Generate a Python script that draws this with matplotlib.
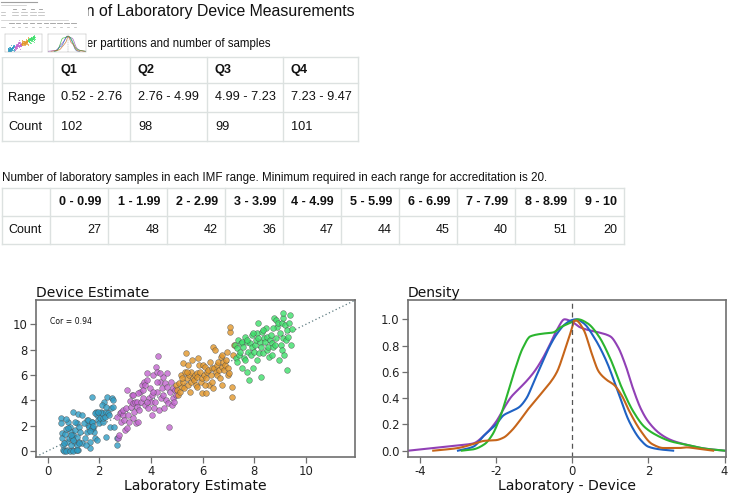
import matplotlib
matplotlib.use("Agg")
import matplotlib.pyplot as plt
import numpy as np
from matplotlib.patches import Rectangle

plt.rcParams['axes.unicode_minus'] = False
plt.rcParams['font.family'] = ['DejaVu Sans']

W, H = 729, 493

# ---------------- data ----------------
page_title = "Comparison of Laboratory Device Measurements"
table1_caption = "Quarter partitions and number of samples"
quartiles = ["Q1", "Q2", "Q3", "Q4"]
quartile_ranges = ["0.52 - 2.76", "2.76 - 4.99", "4.99 - 7.23", "7.23 - 9.47"]
quartile_counts = [102, 98, 99, 101]
table2_caption = ("Number of laboratory samples in each IMF range. "
                  "Minimum required in each range for accreditation is 20.")
imf_bins = ["0 - 0.99", "1 - 1.99", "2 - 2.99", "3 - 3.99", "4 - 4.99",
            "5 - 5.99", "6 - 6.99", "7 - 7.99", "8 - 8.99", "9 - 10"]
imf_counts = [27, 48, 42, 36, 47, 44, 45, 40, 51, 20]
correlation = 0.94

# (laboratory, device) pairs per quartile group
q1_points = [(0.52,2.58),(0.52,2.18),(0.54,1.39),(0.54,1.00),(0.58,0.47),(0.61,0.08),(0.67,1.32),(0.71,1.74),
             (0.74,0.74),(0.77,0.08),(0.80,2.32),(0.84,1.00),(0.86,1.92),(0.90,1.53),(0.93,0.08),(0.97,3.10),
             (0.99,1.26),(1.02,0.74),(1.06,1.66),(1.10,0.08),(1.12,2.18),(1.15,1.13),(1.19,0.08),(1.21,1.92),
             (1.23,0.74),(1.25,1.53),(0.80,1.79),(0.89,0.47),(1.06,2.32),(0.70,2.53),(0.63,0.61),(0.93,1.00),
             (1.19,2.89),(1.15,0.47),(1.32,0.61),(1.45,1.00),(1.51,1.53),(1.54,2.45),(1.57,2.05),(1.61,1.92),
             (1.64,0.74),(1.66,0.21),(1.70,4.29),(1.73,2.32),(1.77,1.79),(1.79,1.53),(1.83,1.00),(1.87,3.10),
             (1.90,0.87),(1.92,2.84),(1.96,2.45),(1.99,2.18),(2.03,2.58),(2.06,3.10),(2.09,2.97),(2.13,2.32),
             (2.15,2.58),(2.18,3.89),(2.22,2.71),(2.26,3.10),(2.28,1.13),(2.31,4.29),(2.35,2.97),(2.39,2.84),
             (2.41,1.92),(2.45,3.37),(2.48,4.16),(2.52,4.03),(2.54,3.50),(2.58,1.92),(1.42,2.18),(1.47,0.47),
             (1.35,2.84),(1.57,2.45),(1.70,2.32),(1.83,2.97),(1.96,3.10),(2.09,3.63),(2.67,1.05),(2.70,0.47),
             (2.26,3.50),(0.65,0.00),(0.72,0.00),(0.85,0.00),(1.00,0.00),(1.15,0.05),(1.20,0.60),(1.00,0.90),
             (0.90,1.30),(1.70,1.80),(1.75,2.00),(1.65,1.60)]
q2_points = [(2.70,2.71),(2.74,1.00),(2.76,1.26),(2.80,2.97),(2.83,2.32),(2.86,3.10),(2.90,2.84),(2.93,3.24),
             (2.95,2.45),(2.99,1.66),(3.03,3.37),(3.06,1.79),(3.08,4.82),(3.12,2.84),(3.16,2.32),(3.19,3.95),
             (3.23,3.50),(3.25,4.42),(3.29,2.58),(3.32,3.76),(3.34,3.10),(3.38,3.89),(3.42,2.18),(3.45,3.89),
             (3.48,3.50),(3.51,2.32),(3.55,3.24),(3.57,4.68),(3.60,3.89),(3.64,5.21),(3.68,4.82),(3.70,4.16),
             (3.73,5.47),(3.77,5.21),(3.79,3.63),(3.83,6.13),(3.86,5.61),(3.90,3.37),(3.92,4.16),(3.96,4.95),
             (3.99,3.89),(4.03,4.42),(4.05,2.84),(4.09,6.00),(4.12,3.37),(4.15,3.89),(4.18,6.66),(4.22,6.26),
             (4.25,4.68),(4.28,7.53),(4.31,3.24),(4.35,5.47),(4.39,4.16),(4.41,4.95),(4.45,4.42),(4.48,5.87),
             (4.50,3.37),(4.54,5.34),(4.57,4.03),(4.61,5.08),(4.63,6.13),(4.67,3.76),(4.70,1.92),(4.74,4.68),
             (4.76,5.47),(4.80,3.63),(4.84,4.16),(4.86,4.95),(4.89,3.89),(4.93,4.82),(4.97,4.42),(4.09,4.68),
             (4.22,5.47),(4.35,6.13),(3.83,3.89),(3.51,4.55),(3.32,4.42)]
q3_points = [(4.99,5.21),(5.02,4.82),(5.06,4.42),(5.10,5.34),(5.12,4.68),(5.16,6.00),(5.19,5.08),(5.23,6.92),
             (5.25,5.47),(5.29,4.95),(5.32,6.26),(5.35,7.71),(5.38,5.74),(5.42,5.21),(5.45,6.79),(5.48,6.00),
             (5.51,4.68),(5.54,5.47),(5.57,6.26),(5.60,7.18),(5.64,5.74),(5.66,5.61),(5.70,6.00),(5.74,5.21),
             (5.77,6.13),(5.79,5.87),(5.83,7.32),(5.86,6.79),(5.90,6.26),(5.92,5.47),(5.96,4.55),(5.99,5.74),
             (6.03,6.79),(6.05,6.00),(6.09,6.66),(6.12,4.55),(6.15,5.74),(6.18,6.26),(6.22,6.39),(6.25,5.21),
             (6.28,7.05),(6.31,6.00),(6.35,6.53),(6.37,5.47),(6.41,8.24),(6.45,6.53),(6.48,7.97),(6.52,6.26),
             (6.54,6.79),(6.57,6.00),(6.61,7.05),(6.63,6.39),(6.67,5.74),(6.70,7.45),(6.74,6.66),(6.76,7.58),
             (6.80,7.05),(6.83,6.39),(6.86,6.79),(6.89,7.18),(6.93,7.84),(6.97,6.53),(6.99,6.00),(7.03,6.13),
             (7.06,9.42),(7.08,9.82),(7.12,5.08),(7.15,4.29),(7.19,7.58),(7.21,8.37),(6.74,5.21),(6.41,4.95),
             (6.09,5.21),(5.77,5.08),(5.38,6.26),(5.19,5.74)]
q4_points = [(7.25,8.37),(7.29,7.32),(7.32,8.11),(7.34,7.05),(7.38,8.76),(7.41,7.58),(7.45,7.84),(7.47,8.50),
             (7.51,6.53),(7.54,8.63),(7.57,8.24),(7.61,7.32),(7.64,9.03),(7.66,7.18),(7.70,6.26),(7.73,8.63),
             (7.77,7.84),(7.79,5.61),(7.83,8.50),(7.86,7.58),(7.90,9.16),(7.92,8.24),(7.96,6.53),(7.99,7.84),
             (8.03,8.37),(8.05,8.76),(8.09,7.18),(8.12,9.29),(8.15,10.08),(8.18,7.71),(8.22,8.63),(8.25,8.24),
             (8.28,5.87),(8.31,9.42),(8.35,7.71),(8.37,8.89),(8.41,8.63),(8.44,9.68),(8.48,7.97),(8.50,9.03),
             (8.54,8.24),(8.57,7.45),(8.61,8.76),(8.63,9.16),(8.67,8.50),(8.70,7.58),(8.74,8.24),(8.76,10.47),
             (8.80,8.37),(8.83,8.89),(8.86,10.34),(8.89,9.82),(8.93,10.08),(8.95,7.18),(8.99,9.29),(9.02,8.37),
             (9.06,10.08),(9.08,7.97),(9.12,8.89),(9.15,7.58),(9.19,9.95),(9.21,8.76),(9.25,9.55),(9.28,6.39),
             (9.32,9.03),(9.34,10.08),(9.38,10.74),(9.41,8.37),(9.45,9.61),(7.96,9.29),(8.35,9.55),(8.74,9.68),
             (9.12,10.47),(7.70,8.76),(8.15,8.89),(9.10,10.92)]

# density curves of Laboratory - Device per group (scaled to peak 1)
dens_purple_x = [-4.3,-3.5,-3.0,-2.6,-2.3,-2.0,-1.8,-1.6,-1.4,-1.2,-1.0,-0.8,-0.6,-0.4,-0.2,0.0,0.2,0.4,0.7,1.0,
                 1.2,1.4,1.6,1.8,2.0,2.3,2.6,3.0,3.5,4.0]
dens_purple_y = [0.0,0.025,0.04,0.055,0.12,0.22,0.32,0.41,0.47,0.53,0.60,0.69,0.80,0.92,1.0,0.98,0.94,0.92,0.90,0.87,
                 0.79,0.65,0.47,0.32,0.22,0.13,0.08,0.045,0.015,0.0]
dens_blue_x = [-3.0,-2.6,-2.3,-2.0,-1.8,-1.6,-1.4,-1.2,-1.0,-0.8,-0.6,-0.4,-0.2,0.0,0.1,0.3,0.6,0.9,1.2,1.5,1.8,
               2.0,2.3,2.65]
dens_blue_y = [0.0,0.03,0.12,0.20,0.27,0.30,0.33,0.40,0.53,0.66,0.79,0.89,0.96,0.995,1.0,0.97,0.85,0.68,0.45,0.22,
               0.08,0.03,0.01,0.0]
dens_green_x = [-2.9,-2.6,-2.3,-2.1,-1.9,-1.7,-1.5,-1.3,-1.1,-0.8,-0.5,-0.3,0.0,0.15,0.4,0.7,1.0,1.3,1.6,1.9,2.2,
                2.6,3.0,3.5,4.0]
dens_green_y = [0.0,0.01,0.05,0.12,0.25,0.43,0.62,0.78,0.87,0.89,0.90,0.94,0.98,1.0,0.97,0.87,0.70,0.48,0.30,0.18,0.12,
                0.07,0.045,0.015,0.0]
dens_orange_x = [-3.65,-3.0,-2.6,-2.3,-2.0,-1.8,-1.6,-1.4,-1.2,-1.0,-0.8,-0.6,-0.4,-0.2,0.0,0.05,0.1,0.3,0.5,0.7,0.9,
                 1.1,1.3,1.5,1.8,2.1,2.4,2.8,3.0,3.3,3.7]
dens_orange_y = [0.0,0.02,0.05,0.075,0.08,0.10,0.15,0.22,0.30,0.37,0.44,0.51,0.60,0.76,0.94,0.99,0.99,0.92,0.75,0.60,
                 0.54,0.50,0.42,0.30,0.15,0.05,0.02,0.02,0.025,0.015,0.0]

# ---------------- styles ----------------
group_colors = ["#2f9cc4", "#c266cf", "#e2962a", "#3ddf6a"]
dens_colors = {"purple": "#9140b6", "blue": "#1f62c4", "green": "#2bb52f", "orange": "#c6651a"}
border = "#dce1e0"
spine_col = "#6f6f6f"
table_font = "Liberation Sans"


def smooth_path(xs, ys, n=12):
    """Draw a smooth (monotone cubic Hermite) path through the read points."""
    x = np.asarray(xs, float)
    y = np.asarray(ys, float)
    h = np.diff(x)
    d = np.diff(y) / h
    m = np.zeros_like(y)
    for i in range(1, len(y) - 1):
        if d[i - 1] * d[i] > 0:
            w1 = 2 * h[i] + h[i - 1]
            w2 = h[i] + 2 * h[i - 1]
            m[i] = (w1 + w2) / (w1 / d[i - 1] + w2 / d[i])
    m[0], m[-1] = d[0], d[-1]
    px, py = [], []
    for i in range(len(x) - 1):
        t = np.linspace(0, 1, n, endpoint=False)
        h00 = 2 * t**3 - 3 * t**2 + 1
        h10 = t**3 - 2 * t**2 + t
        h01 = -2 * t**3 + 3 * t**2
        h11 = t**3 - t**2
        px.append(x[i] + t * h[i])
        py.append(h00 * y[i] + h10 * h[i] * m[i] + h01 * y[i + 1] + h11 * h[i] * m[i + 1])
    px.append([x[-1]])
    py.append([y[-1]])
    return np.concatenate(px), np.concatenate(py)


fig = plt.figure(figsize=(W / 100, H / 100), dpi=100)

# background "page" axes in pixel coordinates
bg = fig.add_axes([0, 0, 1, 1], zorder=0)
bg.set_xlim(0, W)
bg.set_ylim(H, 0)
bg.axis('off')

bg.text(355, 15.7, page_title, ha='right', va='baseline', fontsize=11.4,
        family=table_font, color='#111111')
bg.text(270.5, 46.5, table1_caption, ha='right', va='baseline', fontsize=8.3,
        family=table_font, color='#111111')

# table 1
t1_cols = [2, 53, 130, 207, 283, 358]
t1_rows = [57, 83, 112, 141]
for y in t1_rows:
    bg.plot([t1_cols[0], t1_cols[-1]], [y, y], color=border, lw=1)
for x in t1_cols:
    bg.plot([x, x], [t1_rows[0], t1_rows[-1]], color=border, lw=1)
rc1 = [(t1_rows[i] + t1_rows[i + 1]) / 2 for i in range(3)]
for i, q in enumerate(quartiles):
    bg.text(t1_cols[i + 1] + 8, rc1[0], q, ha='left', va='center', fontsize=9.2,
            fontweight='bold', family=table_font, color='#111111')
    bg.text(t1_cols[i + 1] + 8, rc1[1], quartile_ranges[i], ha='left', va='center',
            fontsize=9.2, family=table_font, color='#111111')
    bg.text(t1_cols[i + 1] + 8, rc1[2], str(quartile_counts[i]), ha='left', va='center',
            fontsize=9.2, family=table_font, color='#111111')
bg.text(8, rc1[1], "Range", ha='left', va='center', fontsize=9.2, family=table_font, color='#111111')
bg.text(8, rc1[2], "Count", ha='left', va='center', fontsize=9.2, family=table_font, color='#111111')

# caption 2 + table 2
bg.text(2, 180.5, table2_caption, ha='left', va='baseline', fontsize=8.4,
        family=table_font, color='#111111')
t2_cols = [2, 50, 108, 167, 225, 283, 341, 399, 457, 515, 574, 624]
t2_rows = [188, 216, 244]
for y in t2_rows:
    bg.plot([t2_cols[0], t2_cols[-1]], [y, y], color=border, lw=1)
for x in t2_cols:
    bg.plot([x, x], [t2_rows[0], t2_rows[-1]], color=border, lw=1)
rc2 = [(t2_rows[0] + t2_rows[1]) / 2, (t2_rows[1] + t2_rows[2]) / 2]
for i, b in enumerate(imf_bins):
    bg.text(t2_cols[i + 2] - 7, rc2[0], b, ha='right', va='center', fontsize=9.0,
            fontweight='bold', family=table_font, color='#111111')
    bg.text(t2_cols[i + 2] - 7, rc2[1], str(imf_counts[i]), ha='right', va='center',
            fontsize=9.0, family=table_font, color='#111111')
bg.text(8, rc2[1], "Count", ha='left', va='center', fontsize=9.0, family=table_font, color='#111111')


def style_axes(ax, lw=1.2, tick_len=4, label_size=8.4):
    for s in ax.spines.values():
        s.set_color(spine_col)
        s.set_linewidth(lw)
    ax.tick_params(colors=spine_col, labelcolor='#222222', length=tick_len,
                   width=0.9, labelsize=label_size, direction='out', pad=2)


groups = [q1_points, q2_points, q3_points, q4_points]
dens = [(dens_purple_x, dens_purple_y, dens_colors["purple"]),
        (dens_blue_x, dens_blue_y, dens_colors["blue"]),
        (dens_green_x, dens_green_y, dens_colors["green"]),
        (dens_orange_x, dens_orange_y, dens_colors["orange"])]

# scatter
ax1 = fig.add_axes([35.7 / W, 1 - 456.7 / H, (355 - 35.7) / W, (456.7 - 300) / H], zorder=1)
for pts, c in zip(groups, group_colors):
    arr = np.array(pts)
    ax1.scatter(arr[:, 0], arr[:, 1], s=17, color=c, alpha=0.8,
                edgecolors='#4a4a4a', linewidths=0.35, zorder=3)
ax1.axline((0, 0), slope=1, color='#5d7b80', lw=0.9, ls=(0, (1, 2)), zorder=2)
ax1.set_xlim(-0.46, 11.9)
ax1.set_ylim(-0.45, 11.92)
ax1.set_xticks([0, 2, 4, 6, 8, 10])
ax1.set_yticks([0, 2, 4, 6, 8, 10])
style_axes(ax1)
ax1.set_title("Device Estimate", loc='left', fontsize=10, pad=2.5, color='#111111')
ax1.set_xlabel("Laboratory Estimate", fontsize=10.1, labelpad=0.5, color='#111111')
ax1.text(0.045, 0.86, f"Cor = {correlation}", transform=ax1.transAxes, fontsize=5.6,
         color='#111111', va='center')

# density
ax2 = fig.add_axes([407.7 / W, 1 - 456.7 / H, (725.7 - 407.7) / W, (456.7 - 300) / H], zorder=1)
for x, y, c in dens:
    sx, sy = smooth_path(x, y)
    ax2.plot(sx, sy, color=c, lw=1.5, solid_joinstyle='round')
ax2.axvline(0, color='#555555', lw=0.9, ls=(0, (4, 3)))
ax2.set_xlim(-4.32, 4.03)
ax2.set_ylim(-0.046, 1.147)
ax2.set_xticks([-4, -2, 0, 2, 4])
ax2.set_yticks([0.0, 0.2, 0.4, 0.6, 0.8, 1.0])
style_axes(ax2)
ax2.set_title("Density", loc='left', fontsize=10, pad=2.5, color='#111111')
ax2.set_xlabel("Laboratory - Device", fontsize=10.1, labelpad=0.5, color='#111111')

# thumbnail of the page in the top-left corner
th = fig.add_axes([0, 1 - 57 / H, 88 / W, 57 / H], zorder=5)
th.set_xlim(0, 88)
th.set_ylim(57, 0)
th.axis('off')
th.add_patch(Rectangle((0, 0), 88, 57, facecolor='white', edgecolor='none'))
th.plot([1, 37], [1.5, 1.5], color='#a0a0a0', lw=0.8)
th.plot([1, 26], [5, 5], color='#c4c4c4', lw=0.5)
for xx in [13, 22, 31, 39]:
    th.plot([xx, xx + 3], [8.5, 8.5], color='#9a9a9a', lw=0.6)
for yy in [11.5, 14.5]:
    th.plot([1, 5], [yy, yy], color='#b4b4b4', lw=0.5)
    for xx in [12, 21, 30, 38]:
        th.plot([xx, xx + 6], [yy, yy], color='#b4b4b4', lw=0.5)
th.plot([1, 68], [19.5, 19.5], color='#c8c8c8', lw=0.5)
for k in range(10):
    xx = 9 + k * 6.9
    th.plot([xx, xx + 4.5], [23, 23], color='#9a9a9a', lw=0.6)
    th.plot([xx + 2.5, xx + 4.5], [26.5, 26.5], color='#b4b4b4', lw=0.5)
th.plot([1, 5], [26.5, 26.5], color='#b4b4b4', lw=0.5)

m1 = fig.add_axes([5 / W, 1 - 52 / H, 37 / W, 18 / H], zorder=6)
for pts, c in zip(groups, group_colors):
    arr = np.array(pts)
    m1.scatter(arr[:, 0], arr[:, 1], s=0.5, color=c, alpha=0.6, linewidths=0)
m1.set_xlim(-0.46, 11.9)
m1.set_ylim(-0.45, 11.92)
m2 = fig.add_axes([48 / W, 1 - 52 / H, 38 / W, 18 / H], zorder=6)
for x, y, c in dens:
    sx, sy = smooth_path(x, y)
    m2.plot(sx, sy, color=c, lw=0.5, alpha=0.8)
m2.axvline(0, color='#999999', lw=0.3, ls='--')
m2.set_xlim(-4.32, 4.03)
m2.set_ylim(-0.046, 1.147)
for m in (m1, m2):
    m.set_xticks([])
    m.set_yticks([])
    for s in m.spines.values():
        s.set_color('#aaaaaa')
        s.set_linewidth(0.3)

fig.savefig("out.png", dpi=100)
